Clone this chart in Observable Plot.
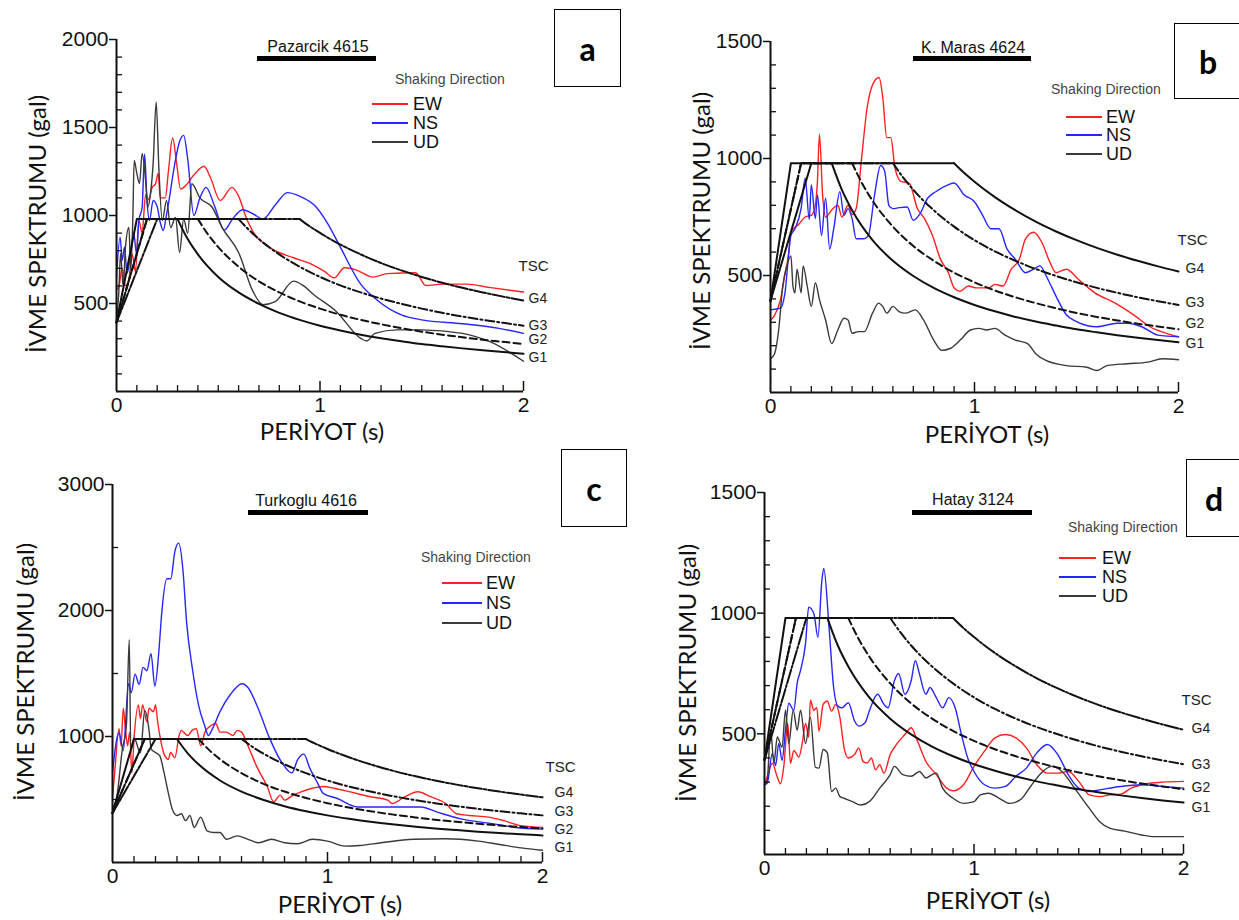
<!DOCTYPE html>
<html><head><meta charset="utf-8">
<script src="https://cdn.jsdelivr.net/npm/d3@7"></script>
<script src="https://cdn.jsdelivr.net/npm/@observablehq/plot@0.6"></script>
<style>
body{margin:0;background:#fff;}
#page{position:relative;width:1239px;height:920px;overflow:hidden;background:#fff;font-family:"Liberation Sans",Arial,sans-serif;}
#page svg{position:absolute;overflow:visible;}
.title{position:absolute;font-size:16px;color:#111;transform:translate(-50%,-50%);white-space:nowrap;}
.bar{position:absolute;height:5px;background:#000;}
.box{position:absolute;border:1.5px solid #000;box-sizing:border-box;display:flex;align-items:center;justify-content:center;font-family:Lato,"Open Sans",sans-serif;font-weight:bold;font-size:32px;background:#fff;color:#000;}
.lgTitle{position:absolute;font-size:14px;color:#444;white-space:nowrap;transform:translateY(-50%);line-height:1;}
.lgLine{position:absolute;height:0;border-top:2px solid;}
.lgText{position:absolute;font-size:18px;color:#111;transform:translateY(-50%);line-height:1;}
.ylab{position:absolute;font-family:Lato,"Open Sans",sans-serif;font-size:24px;color:#111;white-space:nowrap;line-height:1;transform:translate(-50%,-50%) rotate(-90deg);}
.xlab{position:absolute;font-family:Lato,"Open Sans",sans-serif;font-size:24px;color:#111;white-space:nowrap;line-height:1;transform:translate(-50%,-50%);}
</style></head>
<body><div id="page"></div>
<script>
// ---------- data ----------
const series = ["EW", "NS", "UD"];
const seriesColors = ["#ff2020", "#2626ff", "#3a3a3a"];
const periodLabels = [0, 1, 2];
const periodMajorMarks = [1, 2];
const periodMinor = [0.1,0.2,0.3,0.4,0.5,0.6,0.7,0.8,0.9,1.1,1.2,1.3,1.4,1.5,1.6,1.7,1.8,1.9];
const siteClasses = ["G1", "G2", "G3", "G4"];

// TSC design spectra [T (s), A (gal)]
const tscG1 = [[0,392],[0.1,980],[0.3,980],[0.35,866],[0.4,779],[0.5,651],[0.6,563],[0.7,498],[0.8,447],[0.9,407],[1.0,374],[1.1,347],[1.2,323],[1.3,303],[1.4,286],[1.5,270],[1.6,257],[1.7,245],[1.8,234],[1.9,224],[2.0,215]];
const tscG2 = [[0,392],[0.15,980],[0.4,980],[0.45,892],[0.5,820],[0.6,709],[0.7,626],[0.8,563],[0.9,512],[1.0,471],[1.1,436],[1.2,407],[1.3,382],[1.4,360],[1.5,340],[1.6,323],[1.7,308],[1.8,294],[1.9,282],[2.0,270]];
const tscG3 = [[0,392],[0.15,980],[0.6,980],[0.65,919],[0.7,866],[0.8,779],[0.9,709],[1.0,651],[1.1,603],[1.2,563],[1.3,528],[1.4,498],[1.5,471],[1.6,447],[1.7,426],[1.8,407],[1.9,390],[2.0,374]];
const tscG4 = [[0,392],[0.2,980],[0.9,980],[0.95,938],[1.0,901],[1.1,835],[1.2,779],[1.3,730],[1.4,688],[1.5,651],[1.6,618],[1.7,589],[1.8,563],[1.9,539],[2.0,517]];

// (a) Pazarcik 4615
const aEW = [[0,580],[0.011,593],[0.028,700],[0.044,600],[0.061,640],[0.077,780],[0.093,680],[0.11,970],[0.126,900],[0.143,1120],[0.159,1090],[0.175,1160],[0.192,1180],[0.205,1240],[0.215,1100],[0.24,1100],[0.255,1250],[0.276,1440],[0.295,1300],[0.315,1150],[0.34,1170],[0.38,1230],[0.43,1280],[0.46,1220],[0.51,1085],[0.567,1160],[0.6,1110],[0.64,980],[0.67,910],[0.75,820],[0.87,760],[0.965,720],[1.02,684],[1.07,646],[1.12,703],[1.18,690],[1.26,650],[1.33,670],[1.47,675],[1.52,602],[1.6,610],[1.72,610],[1.84,590],[2.0,565]];
const aNS = [[0,650],[0.018,877],[0.028,744],[0.039,820],[0.052,670],[0.069,784],[0.085,898],[0.098,784],[0.11,972],[0.126,1047],[0.138,1350],[0.15,1080],[0.162,972],[0.18,1085],[0.2,1050],[0.215,960],[0.23,915],[0.245,1000],[0.26,1100],[0.28,1250],[0.31,1420],[0.33,1455],[0.35,1320],[0.38,1000],[0.41,1100],[0.44,1160],[0.48,1060],[0.53,917],[0.57,980],[0.62,1033],[0.67,1010],[0.72,980],[0.78,1060],[0.84,1130],[0.9,1110],[0.98,1050],[1.04,950],[1.1,820],[1.2,610],[1.28,520],[1.4,435],[1.5,407],[1.7,385],[1.88,359],[2.0,330]];
const aUD = [[0,403],[0.011,557],[0.02,784],[0.033,593],[0.044,820],[0.061,932],[0.07,690],[0.08,972],[0.087,1313],[0.1,1239],[0.113,1182],[0.126,1352],[0.143,1199],[0.154,1047],[0.167,1125],[0.18,1295],[0.195,1645],[0.208,1273],[0.225,972],[0.246,1085],[0.266,932],[0.29,989],[0.31,790],[0.33,980],[0.35,900],[0.37,1180],[0.41,1100],[0.47,1047],[0.52,930],[0.6,790],[0.67,570],[0.72,493],[0.78,510],[0.87,627],[0.92,600],[0.97,550],[1.08,455],[1.2,302],[1.23,287],[1.27,330],[1.38,350],[1.5,350],[1.7,330],[1.84,280],[2.0,172]];

// (b) K. Maras 4624
const bEW = [[0,310],[0.02,330],[0.05,400],[0.07,500],[0.09,600],[0.1,685],[0.14,720],[0.17,750],[0.2,757],[0.215,780],[0.23,900],[0.24,1104],[0.255,850],[0.27,750],[0.3,780],[0.33,800],[0.35,750],[0.38,800],[0.4,760],[0.42,786],[0.445,988],[0.474,1219],[0.503,1320],[0.532,1346],[0.55,1263],[0.57,1089],[0.59,1089],[0.61,960],[0.64,902],[0.68,895],[0.72,786],[0.755,743],[0.794,671],[0.833,570],[0.872,512],[0.9,447],[0.93,433],[0.97,455],[1.01,447],[1.07,447],[1.1,462],[1.14,455],[1.18,527],[1.22,570],[1.25,657],[1.29,685],[1.33,642],[1.37,556],[1.4,512],[1.45,527],[1.51,483],[1.59,426],[1.69,382],[1.78,332],[1.86,281],[1.94,253],[2.0,238]];
const bNS = [[0,353],[0.05,361],[0.07,420],[0.1,671],[0.12,700],[0.15,786],[0.17,916],[0.19,740],[0.2,887],[0.22,743],[0.23,844],[0.25,671],[0.27,830],[0.29,613],[0.31,700],[0.34,858],[0.36,757],[0.38,786],[0.4,743],[0.42,657],[0.46,657],[0.48,671],[0.51,844],[0.54,970],[0.56,945],[0.58,800],[0.6,786],[0.63,790],[0.67,793],[0.7,736],[0.73,760],[0.77,830],[0.81,858],[0.87,887],[0.9,895],[0.95,844],[1.0,815],[1.04,757],[1.08,700],[1.12,700],[1.16,613],[1.2,570],[1.25,512],[1.29,527],[1.32,541],[1.36,483],[1.4,411],[1.45,332],[1.5,303],[1.6,281],[1.7,296],[1.75,296],[1.82,281],[1.9,245],[2.0,238]];
const bUD = [[0,144],[0.02,166],[0.04,267],[0.06,455],[0.08,541],[0.1,584],[0.11,455],[0.12,426],[0.13,527],[0.15,426],[0.16,541],[0.18,455],[0.2,368],[0.22,469],[0.24,397],[0.27,310],[0.3,209],[0.33,267],[0.36,317],[0.38,310],[0.4,253],[0.43,260],[0.46,260],[0.5,339],[0.53,382],[0.55,368],[0.57,339],[0.6,368],[0.63,346],[0.66,339],[0.71,353],[0.75,310],[0.8,224],[0.84,180],[0.88,188],[0.93,224],[0.98,267],[1.02,274],[1.06,267],[1.1,274],[1.15,245],[1.2,224],[1.26,209],[1.3,166],[1.35,137],[1.45,115],[1.55,108],[1.6,94],[1.65,115],[1.75,123],[1.85,130],[1.92,144],[2.0,140]];

// (c) Turkoglu 4616
const cEW = [[0,522],[0.01,711],[0.03,1062],[0.04,927],[0.05,1224],[0.06,1062],[0.07,927],[0.08,1035],[0.09,711],[0.1,981],[0.12,1251],[0.13,1143],[0.14,1251],[0.16,1116],[0.17,1224],[0.19,1197],[0.2,1251],[0.21,1116],[0.22,1008],[0.24,860],[0.26,819],[0.27,873],[0.29,832],[0.31,1008],[0.32,1049],[0.33,1035],[0.35,1008],[0.37,1049],[0.39,1062],[0.41,927],[0.43,1035],[0.46,1089],[0.48,1103],[0.5,1035],[0.53,1035],[0.56,1008],[0.58,1049],[0.6,1035],[0.63,927],[0.67,765],[0.72,603],[0.75,481],[0.78,535],[0.8,495],[0.84,535],[0.88,562],[0.93,589],[0.98,603],[1.03,589],[1.1,562],[1.2,522],[1.28,495],[1.3,468],[1.36,522],[1.42,562],[1.48,522],[1.55,468],[1.6,387],[1.66,373],[1.75,360],[1.82,332],[1.9,292],[2.0,278]];
const cNS = [[0,711],[0.02,981],[0.03,1030],[0.05,888],[0.075,1420],[0.087,1346],[0.105,1495],[0.124,1414],[0.142,1549],[0.16,1522],[0.179,1657],[0.197,1400],[0.216,1684],[0.229,1981],[0.253,2252],[0.271,2252],[0.29,2468],[0.308,2535],[0.327,2333],[0.345,1900],[0.373,1522],[0.4,1251],[0.428,1089],[0.446,1008],[0.465,1062],[0.5,1197],[0.548,1333],[0.603,1419],[0.631,1387],[0.677,1224],[0.732,981],[0.788,792],[0.834,711],[0.862,819],[0.89,860],[0.917,751],[0.954,630],[0.98,549],[1.046,508],[1.14,441],[1.32,441],[1.434,441],[1.51,400],[1.62,346],[1.78,305],[1.876,278],[2.0,265]];
const cUD = [[0,430],[0.02,520],[0.045,889],[0.065,1100],[0.078,1770],[0.085,889],[0.1,990],[0.13,870],[0.15,1206],[0.17,1050],[0.18,900],[0.2,873],[0.22,846],[0.24,711],[0.26,549],[0.28,414],[0.3,373],[0.32,387],[0.34,332],[0.36,373],[0.38,278],[0.41,360],[0.44,251],[0.47,238],[0.5,238],[0.53,184],[0.58,211],[0.63,184],[0.68,157],[0.74,184],[0.8,157],[0.86,149],[0.93,184],[1.0,170],[1.08,130],[1.15,135],[1.25,157],[1.4,184],[1.55,189],[1.7,170],[1.8,143],[1.9,116],[2.0,97]];

// (d) Hatay 3124
const dEW = [[0,289],[0.013,321],[0.037,378],[0.061,321],[0.076,293],[0.092,364],[0.111,543],[0.124,378],[0.14,431],[0.164,404],[0.18,460],[0.196,543],[0.211,487],[0.219,639],[0.235,598],[0.25,608],[0.26,511],[0.28,622],[0.3,636],[0.32,594],[0.34,622],[0.36,567],[0.38,442],[0.4,400],[0.43,414],[0.45,442],[0.47,386],[0.49,379],[0.51,400],[0.53,351],[0.55,372],[0.57,337],[0.6,414],[0.63,456],[0.67,497],[0.7,525],[0.73,470],[0.77,386],[0.82,331],[0.87,275],[0.9,264],[0.95,289],[1.0,365],[1.05,428],[1.1,483],[1.15,497],[1.2,483],[1.25,442],[1.3,372],[1.35,337],[1.4,337],[1.45,344],[1.5,303],[1.55,247],[1.6,240],[1.65,247],[1.7,250],[1.75,275],[1.8,289],[1.9,300],[2.0,303]];
const dNS = [[0,289],[0.013,295],[0.037,419],[0.053,369],[0.068,460],[0.084,390],[0.1,515],[0.116,627],[0.14,598],[0.156,710],[0.172,763],[0.196,876],[0.211,1025],[0.236,997],[0.255,900],[0.274,1136],[0.283,1185],[0.308,942],[0.33,692],[0.35,615],[0.37,608],[0.4,629],[0.43,553],[0.45,532],[0.48,546],[0.5,594],[0.54,664],[0.57,622],[0.59,608],[0.62,720],[0.64,750],[0.67,664],[0.7,720],[0.72,803],[0.74,747],[0.77,664],[0.79,692],[0.82,650],[0.85,608],[0.88,650],[0.91,608],[0.94,497],[0.97,400],[1.0,344],[1.05,289],[1.1,275],[1.15,282],[1.2,324],[1.25,358],[1.3,421],[1.35,456],[1.4,414],[1.45,331],[1.5,275],[1.55,261],[1.6,268],[1.7,282],[1.8,289],[1.9,282],[2.0,275]];
const dUD = [[0,289],[0.013,307],[0.029,515],[0.045,378],[0.061,487],[0.084,444],[0.1,598],[0.116,460],[0.137,598],[0.156,515],[0.172,598],[0.196,460],[0.219,568],[0.243,361],[0.26,358],[0.28,435],[0.3,421],[0.32,261],[0.34,275],[0.36,240],[0.38,233],[0.42,219],[0.46,205],[0.5,219],[0.55,275],[0.6,331],[0.62,365],[0.66,331],[0.7,324],[0.74,344],[0.77,317],[0.8,331],[0.82,337],[0.85,275],[0.9,233],[0.95,212],[1.0,219],[1.03,247],[1.07,254],[1.12,233],[1.17,212],[1.22,226],[1.27,282],[1.32,337],[1.37,365],[1.42,344],[1.48,275],[1.55,192],[1.6,136],[1.65,108],[1.72,97],[1.8,81],[1.86,74],[2.0,74]];

const stationNames = ["Pazarcik 4615", "K. Maras 4624", "Turkoglu 4616", "Hatay 3124"];
const panelLetters = ["a", "b", "c", "d"];
const yTicksA = [500, 1000, 1500, 2000];
const yMinorA = [100,200,300,400,600,700,800,900,1100,1200,1300,1400,1600,1700,1800,1900];
const yTicksB = [500, 1000, 1500];
const yMinorB = [100,200,300,400,600,700,800,900,1100,1200,1300,1400];
const yTicksC = [1000, 2000, 3000];
const yMinorC = [500, 1500, 2500];
const yLabel = "İVME SPEKTRUMU (gal)";
const xLabel = "PERİYOT (s)";
const legendTitle = "Shaking Direction";
const codeLabel = "TSC";

// ---------- layout (positions / styles) ----------
const layouts = [
  {svg:{left:0,top:0,w:620,h:440,mL:116,mR:97,mT:39,mB:49}, yMax:2000, yTicks:yTicksA, yMinor:yMinorA, rec:[aEW,aNS,aUD],
   title:[318,47], bar:[257,376,56], box:[554,9,67,78], lg:{tx:395,ty:79,x1:372,x2:408,ys:[104,123,142],txt:413},
   ylab:[37,224], xlab:[322,431], gdx:5, gdy:[4,-4,0,-2], tsc:[-5,-32], g4dash:"12,2,3,2"},
  {svg:{left:620,top:0,w:619,h:440,mL:150,mR:61,mT:41,mB:48}, yMax:1500, yTicks:yTicksB, yMinor:yMinorB, rec:[bEW,bNS,bUD],
   title:[973,48], bar:[913,1031,56], box:[1174,23,68,76], lg:{tx:1051,ty:89,x1:1066,x2:1102,ys:[117,135,154],txt:1106},
   ylab:[701,221], xlab:[987,434], gdx:7, gdy:[1,-6,-2,-3], tsc:[-1,-28], g4dash:null},
  {svg:{left:0,top:440,w:620,h:480,mL:112,mR:78,mT:44,mB:58}, yMax:3000, yTicks:yTicksC, yMinor:yMinorC, rec:[cEW,cNS,cUD],
   title:[306,501], bar:[248,368,510], box:[561,449,66,78], lg:{tx:421,ty:557,x1:442,x2:482,ys:[583,603,623],txt:486},
   ylab:[25,672], xlab:[340,904], gdx:12, gdy:[12,1,-4,-5], tsc:[3,-25], g4dash:"12,2,3,2"},
  {svg:{left:620,top:440,w:619,h:480,mL:144,mR:56,mT:52,mB:66}, yMax:1500, yTicks:yTicksB, yMinor:yMinorB, rec:[dEW,dNS,dUD],
   title:[973,500], bar:[912,1032,510], box:[1186,459,56,78], lg:{tx:1068,ty:527,x1:1059,x2:1096,ys:[558,577,596],txt:1102},
   ylab:[687,673], xlab:[988,900], gdx:8, gdy:[5,-2,0,-1], tsc:[-2,-29], g4dash:"14,2,2,2"}
];
const gDash = [null, "7,4", "9,3,2,3"];

const toRows = pairs => pairs.map(([T, A]) => ({T, A}));
const tscCurves = [tscG1, tscG2, tscG3, tscG4];
const page = document.getElementById("page");
const font = "'Liberation Sans', Arial, sans-serif";
const plain = d => String(d);

function addDiv(cls, text, css) {
  const el = document.createElement("div");
  el.className = cls;
  if (text != null) el.textContent = text;
  Object.assign(el.style, css);
  page.appendChild(el);
  return el;
}

layouts.forEach((L, p) => {
  const s = L.svg;
  const marks = [];
  // recorded spectra
  L.rec.forEach((pairs, k) => {
    marks.push(Plot.line(toRows(pairs), {x: "T", y: "A", stroke: seriesColors[k], strokeWidth: 1.4, curve: "monotone-x"}));
  });
  // TSC design spectra
  tscCurves.forEach((pairs, g) => {
    const dash = g === 3 ? L.g4dash : gDash[g];
    const rows = toRows(pairs);
    const common = {x: "T", y: "A", stroke: "#111", strokeWidth: 2};
    if (dash) common.strokeDasharray = dash;
    marks.push(Plot.line(rows.slice(0, 3), {...common, curve: "linear"}));
    marks.push(Plot.line(rows.slice(2), {...common, curve: "monotone-x"}));
  });
  // class labels at curve ends
  const ends = tscCurves.map((pairs, g) => ({T: pairs[pairs.length - 1][0], A: pairs[pairs.length - 1][1], label: siteClasses[g], dy: L.gdy[g]}));
  ends.forEach(e => {
    marks.push(Plot.text([e], {x: "T", y: "A", text: "label", dx: L.gdx, dy: e.dy, textAnchor: "start", fontSize: 14, fontFamily: font, fill: "#222"}));
  });
  marks.push(Plot.text([ends[3]], {x: "T", y: "A", text: () => codeLabel, dx: L.tsc[0], dy: L.tsc[1] + ends[3].dy, textAnchor: "start", fontSize: 15, fontFamily: font, fill: "#222"}));
  // axis lines
  marks.push(Plot.ruleX([0], {stroke: "#111", strokeWidth: 2}));
  marks.push(Plot.ruleY([0], {stroke: "#111", strokeWidth: 2}));
  // y axis: outward major ticks with labels, inward minor ticks
  marks.push(Plot.axisY({ticks: L.yTicks, anchor: "left", tickSize: 7, tickPadding: 1, fontSize: 21, tickFormat: plain, label: null, strokeWidth: 1.5}));
  marks.push(Plot.axisY({ticks: L.yMinor, anchor: "left", tickSize: 6, dx: 6, tickFormat: () => "", label: null, strokeWidth: 1.3}));
  // x axis: labels, inward ticks
  marks.push(Plot.axisX({ticks: periodLabels, anchor: "bottom", tickSize: 0, tickPadding: 6, fontSize: 21, tickFormat: plain, label: null}));
  marks.push(Plot.axisX({ticks: periodMajorMarks, anchor: "bottom", tickSize: 10, dy: -10, tickFormat: () => "", label: null, strokeWidth: 1.5}));
  marks.push(Plot.axisX({ticks: periodMinor, anchor: "bottom", tickSize: 6, dy: -6, tickFormat: () => "", label: null, strokeWidth: 1.3}));

  const chart = Plot.plot({
    width: s.w, height: s.h,
    marginLeft: s.mL, marginRight: s.mR, marginTop: s.mT, marginBottom: s.mB,
    x: {domain: [0, 2], axis: null},
    y: {domain: [0, L.yMax], axis: null},
    style: {background: "transparent", color: "#111", fontFamily: font, fontSize: "21px", overflow: "visible"},
    marks
  });
  chart.style.left = s.left + "px";
  chart.style.top = s.top + "px";
  page.appendChild(chart);

  // axis titles
  addDiv("ylab", yLabel, {left: L.ylab[0] + "px", top: L.ylab[1] + "px"});
  addDiv("xlab", xLabel, {left: L.xlab[0] + "px", top: L.xlab[1] + "px"});
  // station title + bar
  addDiv("title", stationNames[p], {left: L.title[0] + "px", top: L.title[1] + "px"});
  addDiv("bar", null, {left: L.bar[0] + "px", width: (L.bar[1] - L.bar[0]) + "px", top: L.bar[2] + "px"});
  // panel letter box
  addDiv("box", panelLetters[p], {left: L.box[0] + "px", top: L.box[1] + "px", width: L.box[2] + "px", height: L.box[3] + "px"});
  // legend
  addDiv("lgTitle", legendTitle, {left: L.lg.tx + "px", top: L.lg.ty + "px"});
  series.forEach((name, k) => {
    addDiv("lgLine", null, {left: L.lg.x1 + "px", width: (L.lg.x2 - L.lg.x1) + "px", top: (L.lg.ys[k] - 1) + "px", borderTopColor: seriesColors[k]});
    addDiv("lgText", name, {left: L.lg.txt + "px", top: L.lg.ys[k] + "px"});
  });
});
</script>
</body></html>
